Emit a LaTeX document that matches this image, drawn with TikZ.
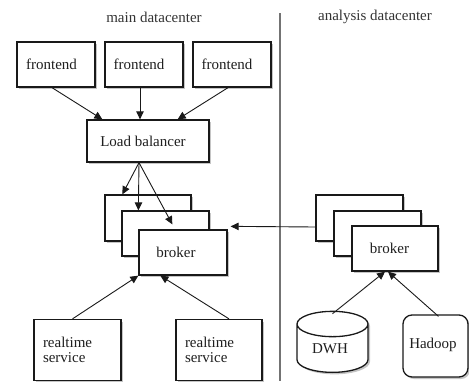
\documentclass[tikz,border=0pt]{standalone}
\usepackage{fontspec}
\setmainfont{Liberation Serif}
\usetikzlibrary{shapes.geometric,shadows,calc,arrows.meta}
\begin{document}
\begin{tikzpicture}[x=1pt,y=-1pt,
  txt/.style={font=\fontsize{15}{15.5}\selectfont, text=black!88},
  box/.style={txt, draw=black!90, line width=1.3pt, fill=white, rectangle, inner sep=0pt,
    drop shadow={shadow xshift=2pt, shadow yshift=-2pt, fill=black!45, opacity=0.5}},
  txshift/.style={execute at end node={\hspace*{#1}}},
  arr/.style={-{Triangle[length=8pt,width=7.5pt]}, line width=0.9pt, draw=black!90},
  title/.style={txt, text=black!80}]
\useasboundingbox (0,0) rectangle (469,381);

% titles and divider
\node[title] (t1) at (154,17) {main datacenter};
\node[title] (t2) at (375,17) {analysis datacenter};
\coordinate (d1) at (280,13);
\coordinate (d2) at (280,381);
\draw[black!55, line width=1.1pt] (d1) -- (d2);

% frontends
\node[box, txshift=9pt, minimum width=78pt, minimum height=45pt] (f1) at (56,64.5) {frontend};
\node[box, txshift=10pt, minimum width=78pt, minimum height=45pt] (f2) at (144,64.5) {frontend};
\node[box, txshift=10pt, minimum width=78pt, minimum height=45pt] (f3) at (232,64.5) {frontend};

% load balancer
\node[box, txshift=10pt, minimum width=122pt, minimum height=42pt] (lb) at (148,141) {Load balancer};

% main brokers
\node[box, minimum width=86pt, minimum height=46pt] (mA) at (148,218) {};
\node[box, minimum width=87pt, minimum height=45pt] (mB) at (165.5,233.5) {};
\node[box, txshift=14pt, minimum width=88pt, minimum height=45pt] (mC) at (183,252.5) {broker};

% realtime services
\node[box, minimum width=87pt, minimum height=61pt, inner xsep=9pt, text width=69pt, align=left] (r1) at (77.5,350) {realtime\\service};
\node[box, minimum width=86pt, minimum height=61pt, inner xsep=9pt, text width=68pt, align=left] (r2) at (219,350) {realtime\\service};

% analysis brokers
\node[box, minimum width=87pt, minimum height=46pt] (aA) at (359.5,218) {};
\node[box, minimum width=87pt, minimum height=45pt] (aB) at (377.5,233.5) {};
\node[box, txshift=11pt, minimum width=86pt, minimum height=45pt] (aC) at (395,248.5) {broker};

% DWH and Hadoop
\node[box, txshift=5pt, shape=cylinder, shape border rotate=90, aspect=0.62, minimum width=71pt, minimum height=61pt] (dwh) at (332.5,348.5) {DWH};
\node[box, txshift=5pt, rounded corners=9pt, minimum width=65pt, minimum height=62pt] (hd) at (435.5,346) {\raisebox{6pt}{Hadoop}};

% connectors
\draw[arr] ($(f1.south)+(-4,0)$) -- ($(lb.north west)+(16,0)$);
\draw[arr] ($(f2.south)+(-4,0)$) -- ($(lb.north)+(-8,0)$);
\draw[arr] ($(f3.south)+(-4,0)$) -- ($(lb.north east)+(-32,0)$);

\coordinate (lbs) at ($(lb.south)+(-9,0)$);
\draw[arr] (lbs) -- ($(mA.north west)+(18,0)$);
\draw[arr] (lbs) -- ($(mB.north west)+(17,0)$);
\draw[arr] (lbs) -- ($(mB.north west)+(51,14)$);

\draw[arr] ($(aA.west)+(0,9)$) -- ($(mC.north east)+(3,-3)$);

\draw[arr] ($(r1.north)+(-5,0)$) -- ($(mC.south west)+(0,0)$);
\draw[arr] ($(r2.north)+(10,0)$) -- ($(mC.south west)+(22,0)$);

\draw[arr] ($(dwh.north)+(0,3)$) -- ($(aC.south)+(-10,0)$);
\draw[arr] ($(hd.north)+(3,2)$) -- ($(aC.south)+(-7,0)$);
\end{tikzpicture}
\end{document}
